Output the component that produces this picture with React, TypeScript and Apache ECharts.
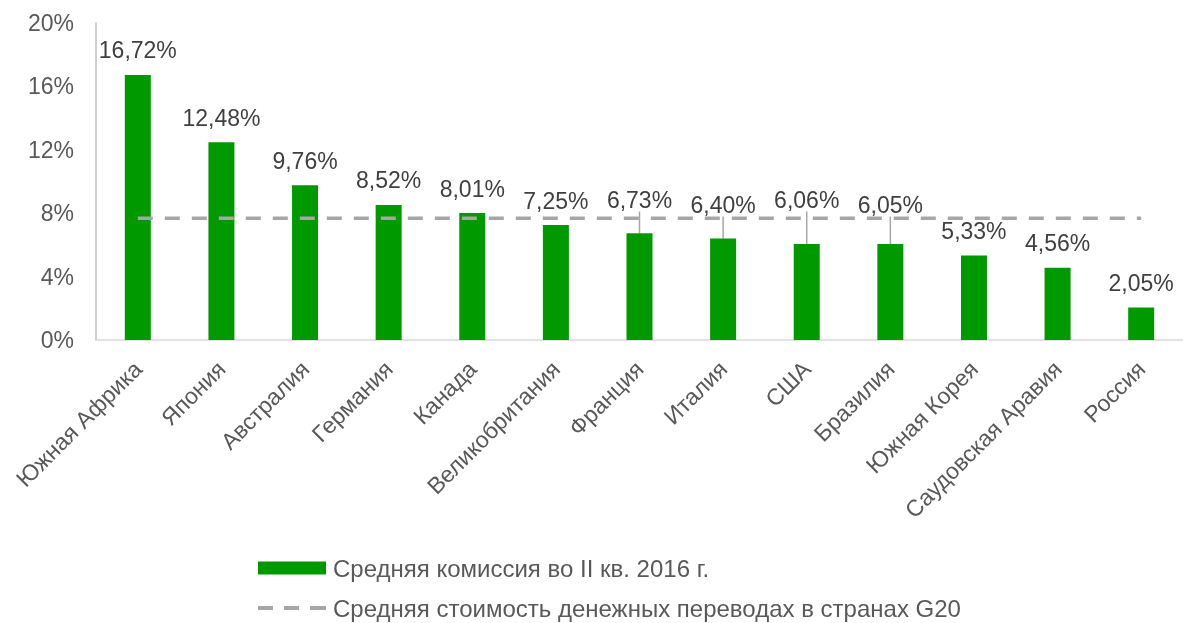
import React, { useEffect, useRef } from "react";
import * as echarts from "echarts";

const categories = [
  "Южная Африка",
  "Япония",
  "Австралия",
  "Германия",
  "Канада",
  "Великобритания",
  "Франция",
  "Италия",
  "США",
  "Бразилия",
  "Южная Корея",
  "Саудовская Аравия",
  "Россия",
];
const commission = [16.72, 12.48, 9.76, 8.52, 8.01, 7.25, 6.73, 6.4, 6.06, 6.05, 5.33, 4.56, 2.05];
const g20Average = [7.68, 7.68, 7.68, 7.68, 7.68, 7.68, 7.68, 7.68, 7.68, 7.68, 7.68, 7.68, 7.68];
const yTicks = [0, 4, 8, 12, 16, 20];
const movedLabels: Record<number, number> = { 6: 200, 7: 205, 8: 200, 9: 205 };
const seriesNames = ["Средняя комиссия во II кв. 2016 г.", "Средняя стоимость денежных переводах в странах G20"];

export default function App() {
  const ref = useRef<HTMLDivElement>(null);
  useEffect(() => {
    if (!ref.current) return;
    const chart = echarts.init(ref.current, null, { renderer: "svg" });
    const font = "'Liberation Sans', Arial, sans-serif";
    const barData = commission.map((v, i) => ({
      value: v,
      labelLine: { show: movedLabels[i] !== undefined },
    }));
    chart.setOption({
      animation: false,
      textStyle: { fontFamily: font },
      grid: { left: 96, top: 23, width: 1093, bottom: 283, containLabel: false },
      xAxis: {
        type: "category",
        data: categories,
        axisLine: { lineStyle: { color: "#d9d9d9", width: 1.5 } },
        axisTick: { show: false },
        axisLabel: {
          rotate: 45,
          interval: 0,
          margin: 25,
          color: "#595959",
          fontSize: 23,
          fontFamily: font,
        },
      },
      yAxis: {
        type: "value",
        min: yTicks[0],
        max: yTicks[yTicks.length - 1],
        interval: 4,
        axisLine: { show: true, lineStyle: { color: "#bfbfbf", width: 1.5 } },
        axisTick: { show: false },
        splitLine: { show: false },
        axisLabel: {
          margin: 22,
          color: "#595959",
          fontSize: 23,
          fontFamily: font,
          formatter: (v: number) => `${v}%`,
        },
      },
      legend: {
        orient: "vertical",
        left: 258,
        top: 556,
        padding: 0,
        height: 80,
        itemWidth: 68,
        itemHeight: 13,
        itemGap: 16,
        textStyle: { color: "#595959", fontSize: 24, fontFamily: font, padding: [0, 0, 0, 2] },
        data: [
          { name: seriesNames[0], icon: "rect" },
          {
            name: seriesNames[1],
            icon: "path://M0,0h15v4h-15z M26,0h15v4h-15z M52,0h16v4h-16z",
            itemStyle: { color: "#a6a6a6" },
          },
        ],
      },
      series: [
        {
          name: seriesNames[0],
          type: "bar",
          data: barData,
          barWidth: 26,
          itemStyle: { color: "#009900" },
          label: {
            show: true,
            position: "top",
            distance: 13,
            color: "#404040",
            fontSize: 23,
            fontFamily: font,
            formatter: (p: any) => p.value.toFixed(2).replace(".", ",") + "%",
          },
          labelLine: { show: false, lineStyle: { color: "#a6a6a6", width: 1.5 } },
          labelLayout: (params: any) => {
            const y = movedLabels[params.dataIndex];
            if (y !== undefined) {
              return { y, align: "center", verticalAlign: "middle" };
            }
            return {};
          },
          z: 2,
        },
        {
          name: seriesNames[1],
          type: "line",
          data: g20Average,
          symbol: "none",
          lineStyle: { color: "#a6a6a6", width: 3.5, type: [15, 12] },
          itemStyle: { color: "#a6a6a6" },
          z: 3,
        },
      ],
    });
    return () => chart.dispose();
  }, []);
  return <div ref={ref} style={{ position: "fixed", left: 0, top: 0, width: 1183, height: 623 }} />;
}
